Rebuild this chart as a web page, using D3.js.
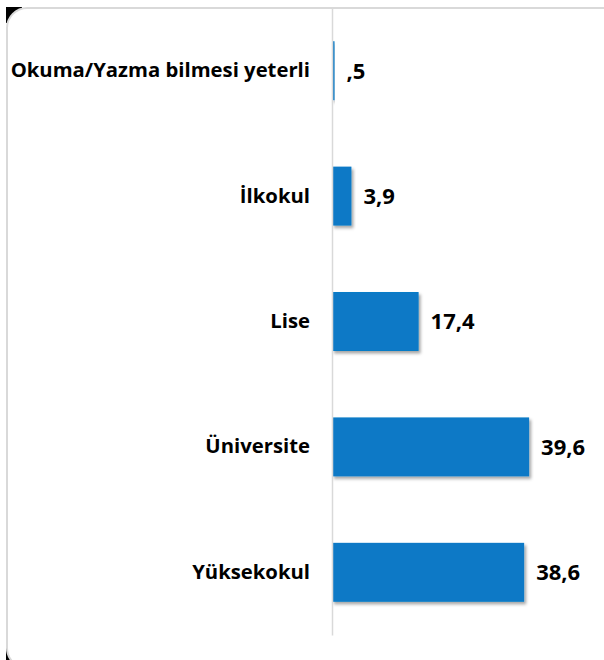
<!DOCTYPE html>
<html>
<head>
<meta charset="utf-8">
<script src="https://cdn.jsdelivr.net/npm/d3@7"></script>
<style>
  html, body { margin: 0; padding: 0; background: #fff; }
  svg { display: block; }
</style>
</head>
<body>
<div id="chart"></div>
<script>
// chart data
const categories = ["Okuma/Yazma bilmesi yeterli", "İlkokul", "Lise", "Üniversite", "Yüksekokul"];
const values = [0.5, 3.9, 17.4, 39.6, 38.6];

const width = 604, height = 660;

const svg = d3.select("#chart")
    .append("svg")
    .attr("width", width)
    .attr("height", height);

// drop shadow for the bars
const defs = svg.append("defs");
defs.append("filter")
    .attr("id", "shadow")
    .attr("x", "-10%").attr("y", "-10%")
    .attr("width", "130%").attr("height", "140%")
    .append("feDropShadow")
    .attr("dx", 2).attr("dy", 2.5)
    .attr("stdDeviation", 1.5)
    .attr("flood-color", "#000")
    .attr("flood-opacity", 0.35);

// frame: black corner bits and rounded white panel
svg.append("rect").attr("x", 6).attr("y", 7).attr("width", 16).attr("height", 16).attr("fill", "#000");
svg.append("rect").attr("x", 6).attr("y", 648).attr("width", 14).attr("height", 12).attr("fill", "#000");
svg.append("rect")
    .attr("x", 7).attr("y", 8)
    .attr("width", 640).attr("height", 660)
    .attr("rx", 20).attr("ry", 20)
    .attr("fill", "#fff")
    .attr("stroke", "#d9d9d9")
    .attr("stroke-width", 2);

// scales
const x = d3.scaleLinear()
    .domain([0, 45])
    .range([332, 556]);

const y = d3.scaleBand()
    .domain(categories)
    .range([8, 635])
    .paddingInner(0.53)
    .paddingOuter(0.265);

// bars
svg.selectAll(".bar")
    .data(values)
    .enter().append("rect")
    .attr("class", "bar")
    .attr("x", x(0))
    .attr("y", (d, i) => y(categories[i]))
    .attr("width", d => x(d) - x(0))
    .attr("height", y.bandwidth())
    .attr("fill", "#0779c6")
    .attr("filter", "url(#shadow)");

// category axis
const axis = svg.append("g")
    .attr("transform", "translate(" + x(0) + ",0)")
    .call(d3.axisLeft(y).tickSize(0).tickSizeOuter(0).tickPadding(22));

axis.select(".domain")
    .attr("stroke", "#d9d9d9")
    .attr("stroke-width", 1.5);

axis.selectAll("text")
    .style("font-family", "'Open Sans', sans-serif")
    .style("font-weight", "bold")
    .style("font-size", "20.3px")
    .attr("fill", "#000");

// value labels, Turkish style: comma decimal, no leading zero
const fmt = v => d3.format(".1f")(v).replace(".", ",").replace(/^0/, "");

svg.selectAll(".label")
    .data(values)
    .enter().append("text")
    .attr("class", "label")
    .attr("x", d => x(d) + 12)
    .attr("y", (d, i) => y(categories[i]) + y.bandwidth() / 2)
    .attr("dy", "0.36em")
    .style("font-family", "'Open Sans', sans-serif")
    .style("font-weight", "bold")
    .style("font-size", "22px")
    .attr("fill", "#000")
    .text(d => fmt(d));
</script>
</body>
</html>
